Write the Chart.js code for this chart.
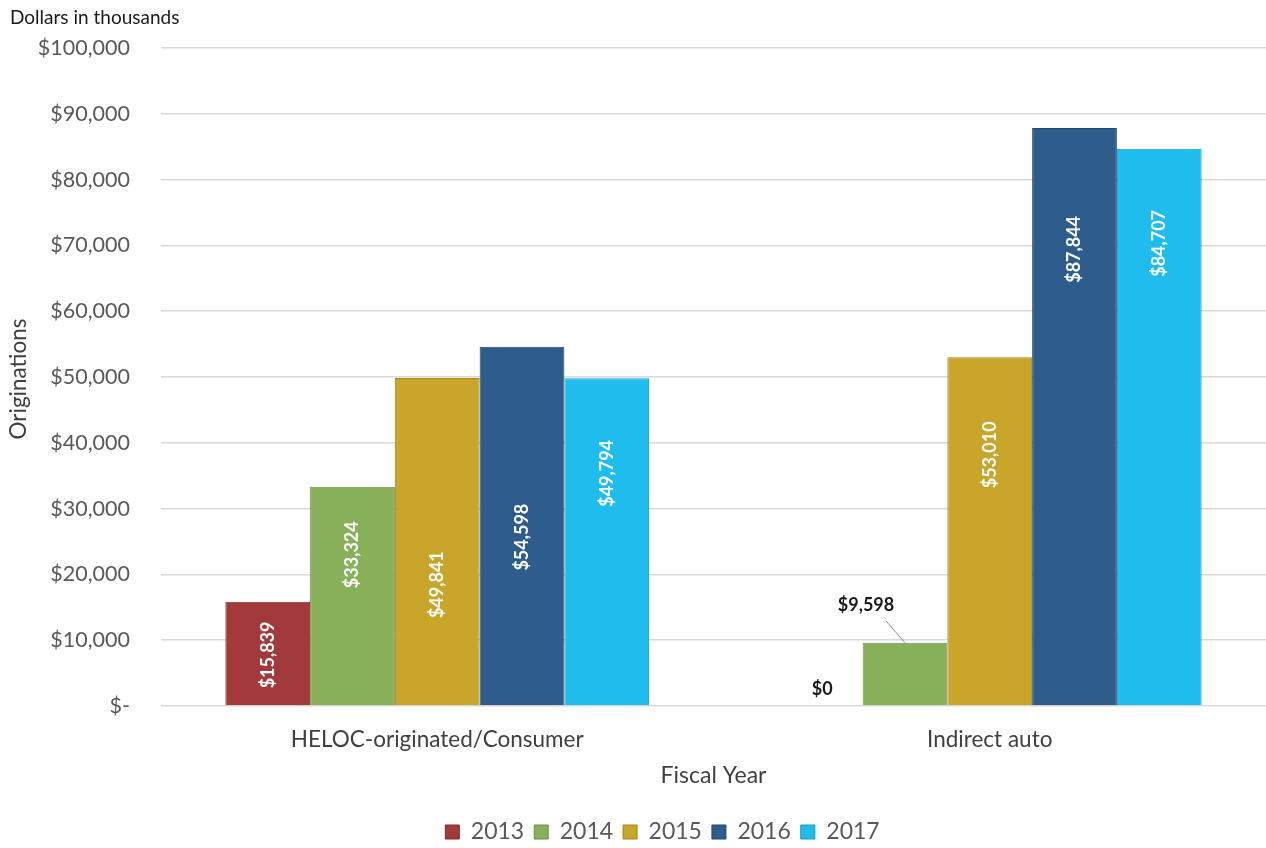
<!DOCTYPE html>
<html>
<head>
<meta charset="utf-8">
<script src="https://cdn.jsdelivr.net/npm/chart.js@4"></script>
<style>
html,body{margin:0;padding:0;background:#fff;}
#wrap{width:1266px;height:848px;position:relative;}
</style>
</head>
<body>
<div id="wrap"><canvas id="c" width="1266" height="848"></canvas></div>
<script>
const categories = ["HELOC-originated/Consumer", "Indirect auto"];
const years = ["2013", "2014", "2015", "2016", "2017"];
const v2013 = [15839, 0];
const v2014 = [33324, 9598];
const v2015 = [49841, 53010];
const v2016 = [54598, 87844];
const v2017 = [49794, 84707];
const yTicks = [0, 10000, 20000, 30000, 40000, 50000, 60000, 70000, 80000, 90000, 100000];

const colors = ["#A23A3B", "#88B05A", "#C9A52A", "#2E5D8B", "#1FBDEE"];
const borders = ["#7E2B2C", "#6C8F45", "#A4861F", "#224669", "#1697BF"];
// where each in-bar label sits, as a share of the bar height (style)
const labelFrac = [[0.49, 0], [0.69, 0], [0.37, 0.72], [0.47, 0.79], [0.71, 0.83]];

const fmt = v => "$" + v.toLocaleString("en-US");

const barLabels = {
  id: "barLabels",
  afterDatasetsDraw(chart) {
    const ctx = chart.ctx;
    const yScale = chart.scales.y;
    chart.data.datasets.forEach((ds, di) => {
      const meta = chart.getDatasetMeta(di);
      meta.data.forEach((bar, i) => {
        const v = ds.data[i];
        const txt = fmt(v);
        ctx.save();
        ctx.font = "bold 18px Lato";
        const tw = ctx.measureText(txt).width;
        const base = yScale.getPixelForValue(0);
        const h = base - bar.y;
        if (v === 0) {
          ctx.fillStyle = "#1a1a1a";
          ctx.textAlign = "center";
          ctx.textBaseline = "middle";
          ctx.fillText(txt, bar.x + 2, base - 17);
        } else if (h > tw + 8) {
          const cy = base - h * labelFrac[di][i];
          ctx.translate(bar.x, cy);
          ctx.rotate(-Math.PI / 2);
          ctx.fillStyle = "#ffffff";
          ctx.textAlign = "center";
          ctx.textBaseline = "middle";
          ctx.fillText(txt, 0, 0);
        } else {
          const lx = bar.x - 39, ly = bar.y - 38;
          ctx.fillStyle = "#1a1a1a";
          ctx.textAlign = "center";
          ctx.textBaseline = "middle";
          ctx.fillText(txt, lx, ly);
          ctx.strokeStyle = "#8c8c8c";
          ctx.lineWidth = 1;
          ctx.beginPath();
          ctx.moveTo(lx + 20, ly + 16);
          ctx.lineTo(bar.x, bar.y);
          ctx.stroke();
        }
        ctx.restore();
      });
    });
  }
};

const extraText = {
  id: "extraText",
  afterDraw(chart) {
    const ctx = chart.ctx;
    const a = chart.chartArea;
    ctx.save();
    ctx.font = "19px Lato";
    ctx.fillStyle = "#1a1a1a";
    ctx.textBaseline = "middle";
    ctx.fillText("Dollars in thousands", 10, 18);
    ctx.font = "22.5px Lato";
    ctx.fillStyle = "#404040";
    ctx.textAlign = "center";
    ctx.translate(19, (a.top + a.bottom) / 2 + 2);
    ctx.rotate(-Math.PI / 2);
    ctx.fillText("Originations", 0, 0);
    ctx.restore();
  }
};

// centre the legend under the plot area, as in the original
const legendShift = {
  id: "legendShift",
  afterLayout(chart) {
    const lg = chart.legend;
    if (!lg) return;
    const a = chart.chartArea;
    const mid = (lg.left + lg.right) / 2;
    const target = (a.left + a.right) / 2 - 51;
    const d = target - mid;
    lg.left += d;
    lg.right += d;
  }
};

const series = [v2013, v2014, v2015, v2016, v2017];
new Chart(document.getElementById("c"), {
  type: "bar",
  data: {
    labels: categories,
    datasets: years.map((y, k) => ({
      label: y,
      data: series[k],
      backgroundColor: colors[k],
      borderColor: borders[k],
      borderWidth: 1,
      barPercentage: 1,
      categoryPercentage: 0.767
    }))
  },
  options: {
    responsive: false,
    animation: false,
    devicePixelRatio: 1,
    layout: { padding: { top: 48, right: 0, left: 4, bottom: -5.5 } },
    plugins: {
      legend: {
        position: "bottom",
        labels: {
          font: { family: "Lato", size: 23 },
          color: "#595959",
          boxWidth: 14,
          boxHeight: 14,
          padding: 10
        }
      },
      tooltip: { enabled: false }
    },
    scales: {
      x: {
        afterFit(scale) { scale.height = 104.5; },
        grid: { display: false },
        border: { display: false },
        ticks: { font: { family: "Lato", size: 22.5 }, color: "#404040", padding: 12 },
        title: { display: true, text: "Fiscal Year", font: { family: "Lato", size: 23 }, color: "#404040", padding: { top: 4, bottom: 21.5 } }
      },
      y: {
        min: 0, max: 100000,
        afterBuildTicks(scale) { scale.ticks = yTicks.map(v => ({ value: v })); },
        afterFit(scale) { scale.width = 157; },
        grid: { color: "#d9d9d9", lineWidth: 1.5, drawTicks: false },
        border: { display: false },
        ticks: {
          font: { family: "Lato", size: 21.5 },
          color: "#595959",
          padding: 31,
          callback: v => v === 0 ? "$-" : fmt(v)
        }
      }
    }
  },
  plugins: [barLabels, extraText, legendShift]
});
</script>
</body>
</html>
